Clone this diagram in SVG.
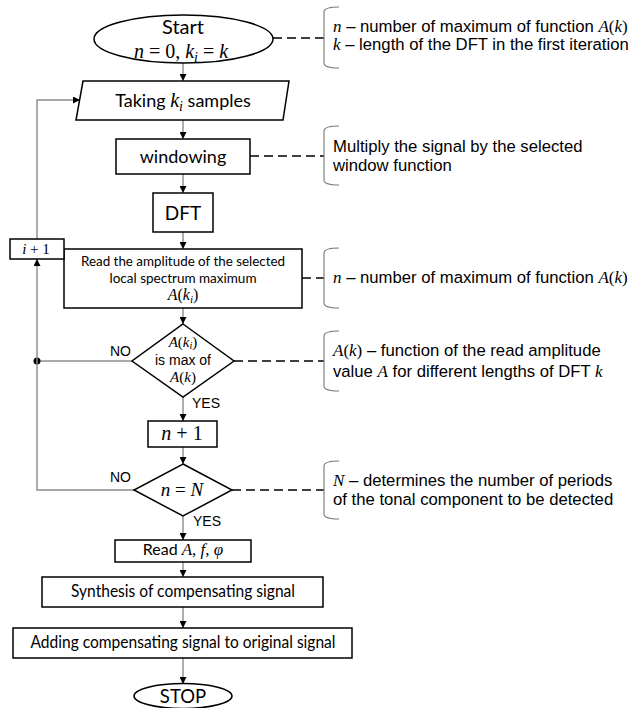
<svg xmlns="http://www.w3.org/2000/svg" width="635" height="708" viewBox="0 0 635 708">
<defs>
<style>
.shape{fill:#fff;stroke:#000;stroke-width:1.5}
.conn{fill:none;stroke:#8c8c8c;stroke-width:1.4}
.dash{fill:none;stroke:#000;stroke-width:1.4;stroke-dasharray:9 5}
.brk{fill:none;stroke:#777;stroke-width:1.1}
.lbl{font-family:Lato,"Open Sans",sans-serif;fill:#000;text-anchor:middle}
.mth{font-family:"Liberation Serif","DejaVu Serif",serif;fill:#000}
.it{font-style:italic}
.ann{font-family:"Liberation Sans",Arial,sans-serif;font-size:16.7px;fill:#000}
.yn{font-family:"Liberation Sans",Arial,sans-serif;font-size:14px;fill:#000}
</style>
<marker id="ah" viewBox="0 0 10 10" refX="10" refY="5" markerWidth="7" markerHeight="7" markerUnits="userSpaceOnUse" orient="auto">
<path d="M0,0 L10,5 L0,10 Z" fill="#000"/>
</marker>
</defs>

<g id="connectors">
<path class="conn" d="M183,63 V81" marker-end="url(#ah)"/>
<path class="conn" d="M183,120 V139" marker-end="url(#ah)"/>
<path class="conn" d="M183,174 V193" marker-end="url(#ah)"/>
<path class="conn" d="M183,232 V249" marker-end="url(#ah)"/>
<path class="conn" d="M183,308 V324" marker-end="url(#ah)"/>
<path class="conn" d="M183,397 V421" marker-end="url(#ah)"/>
<path class="conn" d="M183,447 V464" marker-end="url(#ah)"/>
<path class="conn" d="M183,516 V540" marker-end="url(#ah)"/>
<path class="conn" d="M183,562 V577" marker-end="url(#ah)"/>
<path class="conn" d="M183,607 V628" marker-end="url(#ah)"/>
<path class="conn" d="M183,658 V684" marker-end="url(#ah)"/>
<path class="conn" d="M37,239 V100 H80" marker-end="url(#ah)"/>
<path class="conn" d="M132,361 H37"/>
<circle cx="37" cy="361" r="3.5" fill="#000"/>
<path class="conn" d="M134,490 H37 V259" marker-end="url(#ah)"/>
<path class="dash" d="M273,38 H324"/>
<path class="dash" d="M250,156 H324"/>
<path class="dash" d="M302,278 H324"/>
<path class="dash" d="M234,361 H324"/>
<path class="dash" d="M232,490 H324"/>
<text class="yn" x="110" y="356">NO</text>
<text class="yn" x="192" y="408">YES</text>
<text class="yn" x="110" y="482">NO</text>
<text class="yn" x="193" y="526">YES</text>
</g>

<g id="start">
<ellipse class="shape" cx="183.5" cy="39" rx="89.5" ry="24"/>
<text class="lbl" x="183" y="34" font-size="20">Start</text>
<text class="mth" x="181" y="58" font-size="20" text-anchor="middle"><tspan class="it">n</tspan> = 0, <tspan class="it">k</tspan><tspan class="it" font-size="14" dy="4">i</tspan><tspan dy="-4"> = </tspan><tspan class="it">k</tspan></text>
</g>

<g id="taking">
<polygon class="shape" points="83,81 289,81 283,120 76,120"/>
<text class="lbl" x="183" y="107" font-size="18">Taking <tspan class="mth it" font-size="20">k</tspan><tspan class="mth it" font-size="14" dy="4">i</tspan><tspan dy="-4"> samples</tspan></text>
</g>

<g id="windowing">
<rect class="shape" x="116" y="139" width="134" height="35"/>
<text class="lbl" x="183" y="163" font-size="18">windowing</text>
</g>

<g id="dft">
<rect class="shape" x="153" y="193" width="60" height="39"/>
<text class="lbl" x="183" y="220" font-size="19">DFT</text>
</g>

<g id="read-amp">
<rect class="shape" x="64" y="249" width="238" height="59"/>
<text class="lbl" x="183" y="266" font-size="14" textLength="204" lengthAdjust="spacingAndGlyphs">Read the amplitude of the selected</text>
<text class="lbl" x="183" y="283" font-size="14" textLength="147" lengthAdjust="spacingAndGlyphs">local spectrum maximum</text>
<text class="mth" x="183" y="300" font-size="16" text-anchor="middle"><tspan class="it">A</tspan>(<tspan class="it">k</tspan><tspan class="it" font-size="11" dy="3">i</tspan><tspan dy="-3">)</tspan></text>
</g>

<g id="i-plus-1">
<rect class="shape" x="10" y="239" width="54" height="20"/>
<text class="mth" x="36" y="254" font-size="15" text-anchor="middle"><tspan class="it">i</tspan> + 1</text>
</g>

<g id="decision-max">
<polygon class="shape" points="183,324 234,361 183,397 132,361"/>
<text class="mth" x="183" y="347" font-size="15" text-anchor="middle"><tspan class="it">A</tspan>(<tspan class="it">k</tspan><tspan class="it" font-size="10" dy="2">i</tspan><tspan dy="-2">)</tspan></text>
<text class="yn" x="183" y="365" text-anchor="middle">is max of</text>
<text class="mth" x="183" y="382" font-size="15" text-anchor="middle"><tspan class="it">A</tspan>(<tspan class="it">k</tspan>)</text>
</g>

<g id="n-plus-1">
<rect class="shape" x="148" y="421" width="69" height="26"/>
<text class="mth" x="182" y="440" font-size="20" text-anchor="middle"><tspan class="it">n</tspan> + 1</text>
</g>

<g id="decision-n">
<polygon class="shape" points="183,464 232,490 183,516 134,490"/>
<text class="mth" x="182" y="496" font-size="19" text-anchor="middle"><tspan class="it">n</tspan> = <tspan class="it">N</tspan></text>
</g>

<g id="read-afp">
<rect class="shape" x="115" y="540" width="136" height="22"/>
<text class="lbl" x="183" y="555" font-size="16">Read <tspan class="mth it" font-size="17">A</tspan><tspan class="mth" font-size="17">, </tspan><tspan class="mth it" font-size="17">f</tspan><tspan class="mth" font-size="17">, </tspan><tspan class="mth it" font-size="17">φ</tspan></text>
</g>

<g id="synthesis">
<rect class="shape" x="42" y="577" width="281" height="30"/>
<text class="lbl" x="183" y="597" font-size="16.5" textLength="224" lengthAdjust="spacingAndGlyphs">Synthesis of compensating signal</text>
</g>

<g id="adding">
<rect class="shape" x="13" y="628" width="339" height="30"/>
<text class="lbl" x="183" y="648" font-size="16.5" textLength="305" lengthAdjust="spacingAndGlyphs">Adding compensating signal to original signal</text>
</g>

<g id="stop">
<ellipse class="shape" cx="183" cy="696" rx="49" ry="12.5"/>
<text class="lbl" x="183" y="703" font-size="18.5">STOP</text>
</g>

<g id="note-start">
<path class="brk" d="M339,7 Q324,7 324,12 V63 Q324,68 339,68"/>
<text class="ann" x="333" y="32"><tspan class="mth it" font-size="17">n</tspan> – number of maximum of function <tspan class="mth it" font-size="17">A</tspan><tspan class="mth" font-size="17">(</tspan><tspan class="mth it" font-size="17">k</tspan><tspan class="mth" font-size="17">)</tspan></text>
<text class="ann" x="333" y="50"><tspan class="mth it" font-size="17">k</tspan> – length of the DFT in the first iteration</text>
</g>

<g id="note-window">
<path class="brk" d="M339,126 Q324,126 324,131 V180 Q324,185 339,185"/>
<text class="ann" x="333" y="152">Multiply the signal by the selected</text>
<text class="ann" x="333" y="171">window function</text>
</g>

<g id="note-read">
<path class="brk" d="M339,248 Q324,248 324,253 V303 Q324,308 339,308"/>
<text class="ann" x="333" y="283"><tspan class="mth it" font-size="17">n</tspan> – number of maximum of function <tspan class="mth it" font-size="17">A</tspan><tspan class="mth" font-size="17">(</tspan><tspan class="mth it" font-size="17">k</tspan><tspan class="mth" font-size="17">)</tspan></text>
</g>

<g id="note-max">
<path class="brk" d="M339,331 Q324,331 324,336 V386 Q324,391 339,391"/>
<text class="ann" x="333" y="356"><tspan class="mth it" font-size="17">A</tspan><tspan class="mth" font-size="17">(</tspan><tspan class="mth it" font-size="17">k</tspan><tspan class="mth" font-size="17">)</tspan> – function of the read amplitude</text>
<text class="ann" x="333" y="377">value <tspan class="mth it" font-size="17">A</tspan> for different lengths of DFT <tspan class="mth it" font-size="17">k</tspan></text>
</g>

<g id="note-n">
<path class="brk" d="M339,461 Q324,461 324,466 V514 Q324,519 339,519"/>
<text class="ann" x="333" y="486"><tspan class="mth it" font-size="17">N</tspan> – determines the number of periods</text>
<text class="ann" x="333" y="505">of the tonal component to be detected</text>
</g>
</svg>
